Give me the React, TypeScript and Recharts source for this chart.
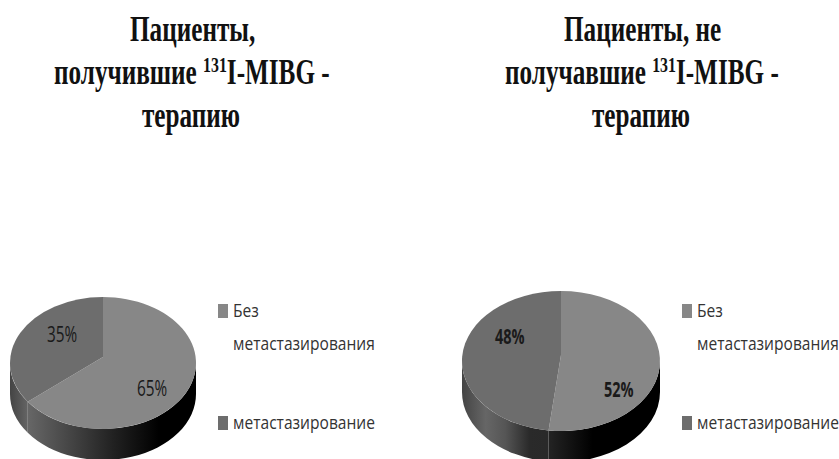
import { Legend, Pie, PieChart } from "recharts";

const categories = ["Без метастазирования", "метастазирование"];
const treatedValues = [65, 35];
const untreatedValues = [52, 48];

const SLICE_COLORS = ["#878787", "#6d6d6d"];
const SERIF = "'Liberation Serif', serif";
const SANS = "'Open Sans', 'Noto Sans', sans-serif";

// Every text is set tall and narrow
const TITLE_SQUEEZE = 0.72;
const LEGEND_SQUEEZE = 0.82;
const LABEL_SQUEEZE = 0.73;
const BOLD_LABEL_SQUEEZE = 0.69;

interface TitleLine {
  x: number;
  y: number;
  before: string;
  sup?: string;
  after?: string;
}

const treatedTitle: TitleLine[] = [
  { x: 130, y: 41, before: "Пациенты," },
  { x: 54, y: 84, before: "получившие ", sup: "131", after: "I-MIBG -" },
  { x: 142, y: 127, before: "терапию" },
];
const untreatedTitle: TitleLine[] = [
  { x: 564, y: 41, before: "Пациенты, не" },
  { x: 505, y: 84, before: "получавшие ", sup: "131", after: "I-MIBG -" },
  { x: 592, y: 127, before: "терапию" },
];

interface PanelProps {
  id: string;
  values: number[];
  left: number;
  cx: number;
  cy: number;
  rx: number;
  ry: number;
  labelSpots: { x: number; y: number; bold: boolean }[];
  rimStops: [number, string][][];
  legendX: number;
  legendYs: number[];
}

const DEPTH = 31;
const HUB_SHIFT = 6;

// Flattened pie: the sector angles come from the Pie layout, the shape
// projects them on an ellipse and adds the visible part of the side wall.
function tiltedSector(panel: PanelProps) {
  return function TiltedSector(props: any) {
    const { cx, cy, rx, ry, rimStops, id } = panel;
    const t0 = 90 - props.startAngle;
    const t1 = 90 - props.endAngle;
    const at = (t: number, drop = 0) => {
      const r = (t * Math.PI) / 180;
      return `${cx + rx * Math.sin(r)} ${cy - ry * Math.cos(r) + drop}`;
    };
    const large = t1 - t0 > 180 ? 1 : 0;
    const face = `M${cx} ${cy - HUB_SHIFT} L${at(t0)} A${rx} ${ry} 0 ${large} 1 ${at(t1)} Z`;
    const a = Math.max(t0, 90);
    const b = Math.min(t1, 270);
    const gradId = `${id}-rim-${props.index}`;
    return (
      <g>
        <defs>
          <linearGradient id={gradId} gradientUnits="userSpaceOnUse" x1={cx - rx} x2={cx + rx} y1={0} y2={0}>
            {rimStops[props.index].map(([o, c]) => (
              <stop key={o} offset={o} stopColor={c} />
            ))}
          </linearGradient>
        </defs>
        {b > a && (
          <path
            d={`M${at(a)} A${rx} ${ry} 0 0 1 ${at(b)} L${at(b, DEPTH)} A${rx} ${ry} 0 0 0 ${at(a, DEPTH)} Z`}
            fill={`url(#${gradId})`}
          />
        )}
        <path d={face} fill={SLICE_COLORS[props.index]} />
      </g>
    );
  };
}

function LegendBlock({ panel }: { panel: PanelProps }) {
  const lines = [
    { text: "Без", y: panel.legendYs[0], box: 0 },
    { text: "метастазирования", y: panel.legendYs[1], box: -1 },
    { text: categories[1], y: panel.legendYs[2], box: 1 },
  ];
  return (
    <svg width={419} height={459} style={{ display: "block" }}>
      {lines.map((l) => (
        <g key={l.text}>
          {l.box >= 0 && (
            <rect x={panel.legendX} y={l.y - 13} width={10} height={14} fill={SLICE_COLORS[l.box]} />
          )}
          <text
            transform={`translate(${panel.legendX + 15} ${l.y}) scale(${LEGEND_SQUEEZE} 1)`}
            fontFamily={SANS}
            fontSize={19}
            fill="#333"
          >
            {l.text}
          </text>
        </g>
      ))}
    </svg>
  );
}

function Panel(panel: PanelProps) {
  const rows = categories.map((name, i) => ({ name, value: panel.values[i] }));
  const Shape = tiltedSector(panel);
  return (
    <div style={{ position: "absolute", left: panel.left, top: 0 }}>
      <PieChart width={419} height={459} margin={{ top: 0, right: 0, bottom: 0, left: 0 }}>
        <Pie
          data={rows}
          dataKey="value"
          nameKey="name"
          cx={panel.cx}
          cy={panel.cy}
          outerRadius={panel.rx}
          startAngle={90}
          endAngle={-270}
          stroke="none"
          isAnimationActive={false}
          shape={Shape}
          inactiveShape={Shape}
          activeShape={Shape}
          labelLine={false}
          label={(p: any) => {
            const spot = panel.labelSpots[p.index];
            const squeeze = spot.bold ? BOLD_LABEL_SQUEEZE : LABEL_SQUEEZE;
            return (
              <text
                transform={`translate(${spot.x} ${spot.y}) scale(${squeeze} 1)`}
                textAnchor="start"
                fontFamily={SANS}
                fontSize={21}
                fontWeight={spot.bold ? 700 : 400}
                fill="#1a1a1a"
              >
                {`${p.value}%`}
              </text>
            );
          }}
        />
        <Legend
          content={() => <LegendBlock panel={panel} />}
          wrapperStyle={{ position: "absolute", left: 0, top: 0, width: 419, height: 459, pointerEvents: "none" }}
        />
      </PieChart>
    </div>
  );
}

function Title({ lines }: { lines: TitleLine[] }) {
  return (
    <>
      {lines.map((l) => (
        <text
          key={l.before}
          transform={`translate(${l.x} ${l.y}) scale(${TITLE_SQUEEZE} 1)`}
          fontFamily={SERIF}
          fontWeight={700}
          fontSize={35}
          fill="#111"
        >
          {l.before}
          {l.sup && (
            <tspan fontSize={22} dy={-12}>
              {l.sup}
            </tspan>
          )}
          {l.after && <tspan dy={12}>{l.after}</tspan>}
        </text>
      ))}
    </>
  );
}

export default function App() {
  return (
    <div style={{ position: "absolute", left: 0, top: 0, width: 839, height: 459, overflow: "hidden", background: "#fff" }}>
      <Panel
        id="treated"
        values={treatedValues}
        left={0}
        cx={103}
        cy={363}
        rx={93}
        ry={66}
        labelSpots={[
          { x: 137, y: 396, bold: false },
          { x: 47, y: 342, bold: false },
        ]}
        rimStops={[
          [[0, "#707070"], [0.1, "#666"], [0.33, "#444"], [0.55, "#222"], [0.8, "#000"], [1, "#000"]],
          [[0, "#444"], [0.1, "#666"], [1, "#666"]],
        ]}
        legendX={218}
        legendYs={[317, 350, 429]}
      />
      <Panel
        id="untreated"
        values={untreatedValues}
        left={420}
        cx={141}
        cy={361}
        rx={99}
        ry={70}
        labelSpots={[
          { x: 184, y: 397, bold: true },
          { x: 75, y: 344, bold: true },
        ]}
        rimStops={[
          [[0, "#222"], [0.45, "#222"], [0.66, "#000"], [1, "#000"]],
          [[0, "#444"], [0.12, "#666"], [0.22, "#555"], [0.34, "#2a2a2a"], [1, "#222"]],
        ]}
        legendX={262}
        legendYs={[317, 350, 429]}
      />
      <svg width={839} height={459} style={{ position: "absolute", left: 0, top: 0, pointerEvents: "none" }}>
        <Title lines={treatedTitle} />
        <Title lines={untreatedTitle} />
      </svg>
    </div>
  );
}
